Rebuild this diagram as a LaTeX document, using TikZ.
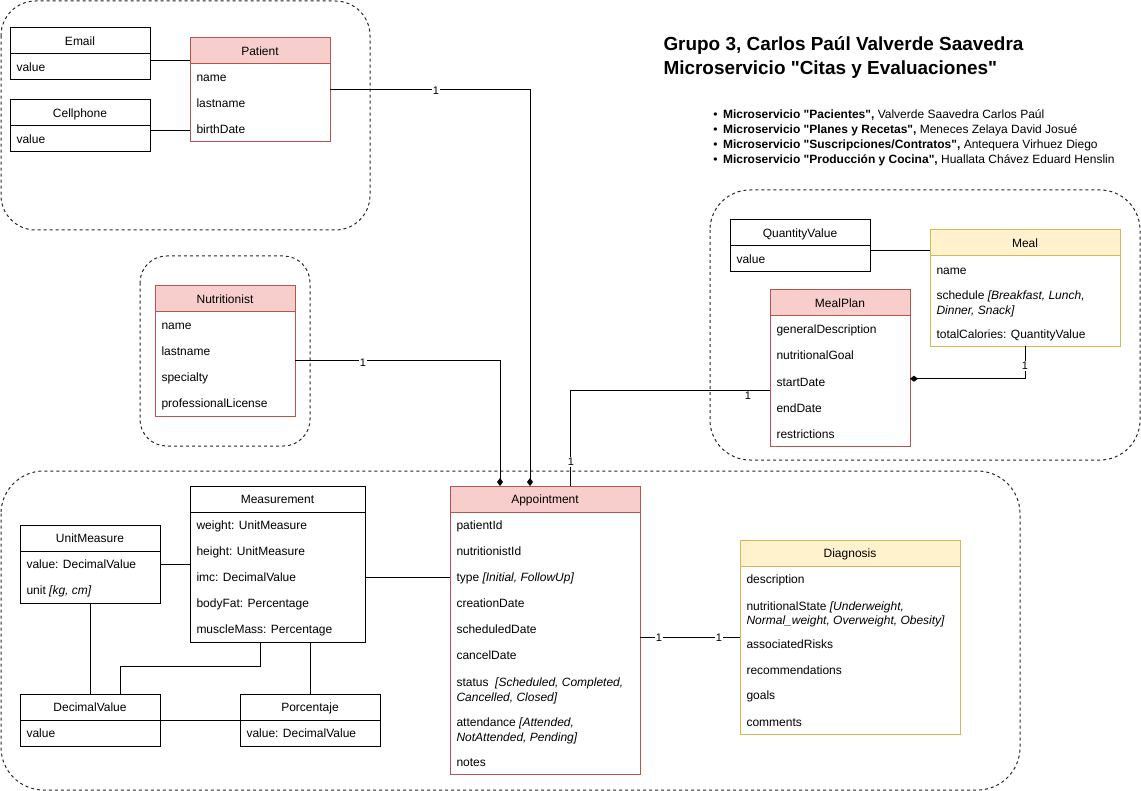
\documentclass[tikz,border=0pt]{standalone}
\usepackage{fontspec}
\setmainfont{Liberation Sans}[Ligatures=TeXOff]
\usetikzlibrary{arrows.meta}
\definecolor{redfill}{HTML}{F8CECC}
\definecolor{redline}{HTML}{B85450}
\definecolor{yelfill}{HTML}{FFF2CC}
\definecolor{yelline}{HTML}{D6B656}
\newcommand{\umlcls}[7]{%
  \node[#6, minimum width=#4*0.75pt, minimum height=#5*0.75pt] (#1) at (#2,#3) {};
  \node[#6head, minimum width=#4*0.75pt, minimum height=26*0.75pt, text height=7.2pt, text depth=0pt] (#1-h) at (#2,#3) {#7};
}
\begin{document}
\begin{tikzpicture}[x=0.75pt,y=-0.75pt, font=\fontsize{9}{10.8}\selectfont, line width=0.75pt,
  group/.style={draw=black!85, dash pattern=on 2.25pt off 2.25pt, line width=0.75pt},
  clsbox/.style={draw, fill=white, inner sep=0pt, outer sep=0pt, anchor=north west, line width=0.75pt},
  plain/.style={clsbox, draw=black},
  redc/.style={clsbox, draw=redline},
  yelc/.style={clsbox, draw=yelline},
  plainhead/.style={plain, fill=white},
  redchead/.style={redc, fill=redfill},
  yelchead/.style={yelc, fill=yelfill},
  attr/.style={anchor=base west, inner sep=0pt},
  conn/.style={draw=black, line width=0.75pt},
  mult/.style={fill=white, inner sep=1pt, font=\fontsize{8.25}{10}\selectfont},
  comp/.style={-{Diamond[length=6pt,width=4.5pt]}},
  titletext/.style={anchor=base west, inner sep=0pt, font=\fontsize{14.2}{17}\selectfont\bfseries},
]
\useasboundingbox (0,0) rectangle (1141,791);

% groups
\draw[group, rounded corners=26pt] (1,1) rectangle (370,230);
\draw[group, rounded corners=20pt] (140,256) rectangle (310,446);
\draw[group, rounded corners=32pt] (1,471) rectangle (1020,790);
\draw[group, rounded corners=30pt] (710,190) rectangle (1140,460);

% title
\node[titletext] (title1) at (663,50.7) {Grupo 3, Carlos Paúl Valverde Saavedra};
\node[titletext] (title2) at (663,75) {Microservicio "Citas y Evaluaciones"};
\node[attr] (b1) at (722.5,118.5) {\makebox[0pt][r]{•\hspace{4pt}}\textbf{Microservicio "Pacientes",} Valverde Saavedra Carlos Paúl};
\node[attr] (b2) at (722.5,133.5) {\makebox[0pt][r]{•\hspace{4pt}}\textbf{Microservicio "Planes y Recetas",} Meneces Zelaya David Josué};
\node[attr] (b3) at (722.5,148.5) {\makebox[0pt][r]{•\hspace{4pt}}\textbf{Microservicio "Suscripciones/Contratos",} Antequera Virhuez Diego};
\node[attr] (b4) at (722.5,163.5) {\makebox[0pt][r]{•\hspace{4pt}}\textbf{Microservicio "Producción y Cocina",} Huallata Chávez Eduard Henslin};

% classes
\umlcls{email}{10}{28}{140}{52}{plain}{Email}
\node[attr] (email-a1) at (16,71.7) {value};
\umlcls{cell}{10}{100}{140}{52}{plain}{Cellphone}
\node[attr] (cell-a1) at (16,143.7) {value};
\umlcls{patient}{190}{38}{140}{104}{redc}{Patient}
\node[attr] (pat-a1) at (196,81.7) {name};
\node[attr] (pat-a2) at (196,107.7) {lastname};
\node[attr] (pat-a3) at (196,133.7) {birthDate};

\umlcls{nutri}{155}{286}{140}{130}{redc}{Nutritionist}
\node[attr] (nut-a1) at (161,329.7) {name};
\node[attr] (nut-a2) at (161,355.7) {lastname};
\node[attr] (nut-a3) at (161,381.7) {specialty};
\node[attr] (nut-a4) at (161,407.7) {professionalLicense};

\umlcls{appt}{450}{486}{190}{288}{redc}{Appointment}
\node[attr] (ap-a1) at (456,529.7) {patientId};
\node[attr] (ap-a2) at (456,555.7) {nutritionistId};
\node[attr] (ap-a3) at (456,581.7) {type \textit{[Initial, FollowUp]}};
\node[attr] (ap-a4) at (456,607.7) {creationDate};
\node[attr] (ap-a5) at (456,633.7) {scheduledDate};
\node[attr] (ap-a6) at (456,659.7) {cancelDate};
\node[attr] (ap-a7) at (456,686) {status\ \ \textit{[Scheduled, Completed,}};
\node[attr] (ap-a7b) at (456,701) {\textit{Cancelled, Closed]}};
\node[attr] (ap-a8) at (456,726.7) {attendance \textit{[Attended,}};
\node[attr] (ap-a8b) at (456,741.2) {\textit{NotAttended, Pending]}};
\node[attr] (ap-a9) at (456,766) {notes};

\umlcls{meas}{190}{486}{175}{156}{plain}{Measurement}
\node[attr] (me-a1) at (196,529.7) {weight: UnitMeasure};
\node[attr] (me-a2) at (196,555.7) {height: UnitMeasure};
\node[attr] (me-a3) at (196,581.7) {imc: DecimalValue};
\node[attr] (me-a4) at (196,607.7) {bodyFat: Percentage};
\node[attr] (me-a5) at (196,633.7) {muscleMass: Percentage};

\umlcls{unit}{20}{525}{140}{78}{plain}{UnitMeasure}
\node[attr] (un-a1) at (26,568.7) {value: DecimalValue};
\node[attr] (un-a2) at (26,594.7) {unit \textit{[kg, cm]}};

\umlcls{dec}{20}{694}{140}{52}{plain}{DecimalValue}
\node[attr] (de-a1) at (26,737.7) {value};
\umlcls{porc}{240}{694}{140}{52}{plain}{Porcentaje}
\node[attr] (po-a1) at (246,737.7) {value: DecimalValue};

\umlcls{diag}{740}{540}{220}{194}{yelc}{Diagnosis}
\node[attr] (di-a1) at (746,583.7) {description};
\node[attr] (di-a2) at (746,610) {nutritionalState \textit{[Underweight,}};
\node[attr] (di-a2b) at (746,624.7) {\textit{Normal\_weight, Overweight, Obesity]}};
\node[attr] (di-a3) at (746,648) {associatedRisks};
\node[attr] (di-a4) at (746,674) {recommendations};
\node[attr] (di-a5) at (746,699.7) {goals};
\node[attr] (di-a6) at (746,726) {comments};

\umlcls{qty}{730}{220}{140}{52}{plain}{QuantityValue}
\node[attr] (qt-a1) at (736,263.7) {value};

\umlcls{meal}{930}{230}{190}{116}{yelc}{Meal}
\node[attr] (ml-a1) at (936,274.7) {name};
\node[attr] (ml-a2) at (936,300) {schedule \textit{[Breakfast, Lunch,}};
\node[attr] (ml-a2b) at (936,314.3) {\textit{Dinner, Snack]}};
\node[attr] (ml-a3) at (936,338.2) {totalCalories: QuantityValue};

\umlcls{mplan}{770}{290}{140}{156}{redc}{MealPlan}
\node[attr] (mp-a1) at (776,334) {generalDescription};
\node[attr] (mp-a2) at (776,359.7) {nutritionalGoal};
\node[attr] (mp-a3) at (776,386) {startDate};
\node[attr] (mp-a4) at (776,412) {endDate};
\node[attr] (mp-a5) at (776,438) {restrictions};

% connectors
\draw[conn] (email.east |- 0,60.3) -- (patient.west |- 0,60.3);
\draw[conn] (cell.east |- 0,130.3) -- (patient.west |- 0,130.3);
\draw[conn, comp] (patient.east) -| (appt.north -| 530,0);
\draw[conn, comp] (nutri.east |- 0,360) -| (appt.north -| 500,0);
\draw[conn] (appt.north -| 570,0) |- (mplan.west |- 0,390.7);
\draw[conn, comp] (meal.south) |- (mplan.east |- 0,378.7);
\draw[conn] (qty.east |- 0,250.3) -- (meal.west |- 0,250.3);
\draw[conn] (appt.east |- diag.west) -- (diag.west);
\draw[conn] (meas.east |- 0,577.3) -- (appt.west |- 0,577.3);
\draw[conn] (unit.east) -- (meas.west |- unit.east);
\draw[conn] (unit.south) -- (dec.north);
\draw[conn] (meas.south -| 260.3,0) -- ++(0,24) -| (dec.north -| 120.3,0);
\draw[conn] (meas.south -| porc.north) -- (porc.north);
\draw[conn] (dec.east) -- (porc.west);

% multiplicities
\node[mult] (m1) at (436,91) {1};
\node[mult] (m2) at (363,363) {1};
\node[mult] (m3) at (571,462) {1};
\node[mult] (m4) at (748,396) {1};
\node[mult] (m5) at (1025,366) {1};
\node[mult] (m6) at (659,638) {1};
\node[mult] (m7) at (719,638) {1};
\end{tikzpicture}
\end{document}
